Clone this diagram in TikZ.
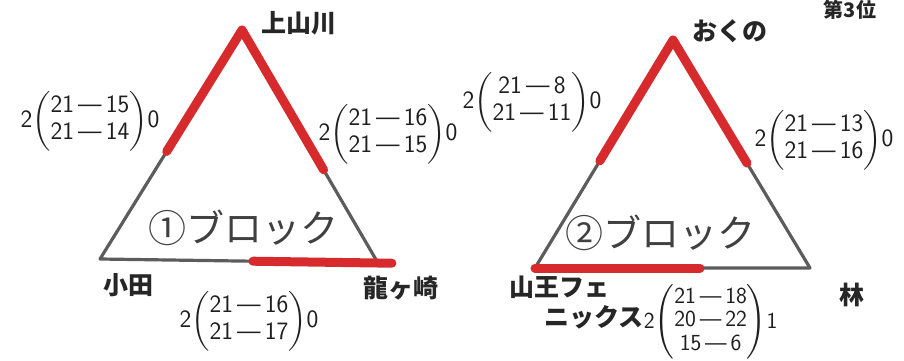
\documentclass[tikz,border=0pt]{standalone}
\usepackage{fontspec}
\usepackage{amsmath}
\newfontfamily\jp{Noto Sans CJK JP}
\usetikzlibrary{calc}
\definecolor{redpen}{HTML}{D62A2C}
\definecolor{edgegray}{HTML}{5C5C5C}
\newcommand{\gs}[2]{#1\,—\,#2}
\newcommand{\twoset}[4]{#1$\left(\begin{tabular}{@{}c@{}}#2\\#3\end{tabular}\right)$#4}
\newcommand{\threeset}[5]{#1$\left(\begin{tabular}{@{}c@{}}#2\\#3\\#4\end{tabular}\right)$#5}
\begin{document}
\begin{tikzpicture}[x=1pt,y=-1pt,
 team/.style={font=\jp\bfseries\fontsize{25}{30}\selectfont, text=black!85, inner sep=0},
 blocklabel/.style={font=\jp\fontsize{38}{40}\selectfont, text=black!75, inner sep=0},
 score/.style={font=\sffamily\fontsize{25}{27}\selectfont, text=black!88, inner sep=0},
 score3/.style={font=\sffamily\fontsize{23}{23.5}\selectfont, text=black!88, inner sep=0},
 edge/.style={draw=edgegray, line width=3.2pt, line cap=round, line join=round},
 win/.style={draw=redpen, line width=9pt, line cap=round, line join=round}]
\useasboundingbox (0,0) rectangle (904,360);
% ---- block 1 ----
\coordinate (kami) at (242,30);
\coordinate (oda) at (100,259);
\coordinate (ryu) at (378,263);
\draw[edge] (kami) -- (oda) -- (ryu) -- cycle;
\draw[win, shift={(0,-3)}] ($(kami)!0.53!(oda)$) -- (kami) -- ($(kami)!0.6!(ryu)$);
\draw[win, shift={(0,4)}] ($(oda)!0.55!(ryu)$) -- ($(oda)!1.05!(ryu)$);
\node[team] (kamiL) at (299,23) {上山川};
\node[team] (odaL) at (128,285) {小田};
\node[team] (ryuL) at (401,288) {龍ヶ崎};
\node[blocklabel] (b1) at (243,228) {①ブロック};
\node[score] (s1a) at (90,121) {\twoset{2}{\gs{21}{15}}{\gs{21}{14}}{0}};
\node[score] (s1b) at (388,134) {\twoset{2}{\gs{21}{16}}{\gs{21}{15}}{0}};
\node[score] (s1c) at (249,321) {\twoset{2}{\gs{21}{16}}{\gs{21}{17}}{0}};
% ---- block 2 ----
\coordinate (okuno) at (673,40);
\coordinate (sanno) at (535,268);
\coordinate (hayashi) at (810,268);
\draw[edge] (okuno) -- (sanno) -- (hayashi) -- cycle;
\draw[win, shift={(0,-3)}] ($(okuno)!0.53!(sanno)$) -- (okuno) -- ($(okuno)!0.54!(hayashi)$);
\draw[win, shift={(0,4)}] (sanno) -- ($(sanno)!0.6!(hayashi)$);
\node[team] (okunoL) at (730,31) {おくの};
\node[team, align=left, anchor=north west] (sannoL) at (509,276) {山王フェ\\\hspace*{35pt}ニックス};
\node[team] (hayashiL) at (852,295) {林};
\node[blocklabel] (b2) at (660,233) {②ブロック};
\node[score] (s2a) at (532,102) {\twoset{2}{\gs{21}{8}}{\gs{21}{11}}{0}};
\node[score] (s2b) at (824,140) {\twoset{2}{\gs{21}{13}}{\gs{21}{16}}{0}};
\node[score3, anchor=west] (s2c) at (sannoL.east |- 0,322) {\threeset{2}{\gs{21}{18}}{\gs{20}{22}}{\gs{15}{6}}{1}};
\node[team, font=\jp\bfseries\fontsize{20}{22}\selectfont] (rank) at (850,10) {第3位};
\end{tikzpicture}
\end{document}
